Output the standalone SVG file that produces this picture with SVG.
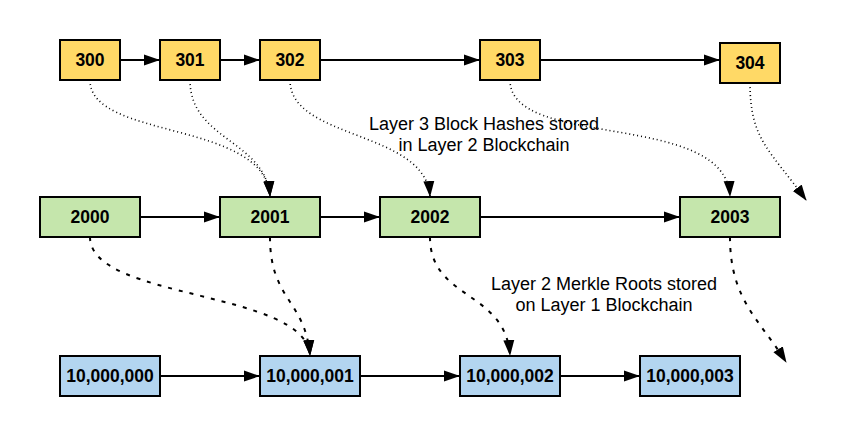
<svg xmlns="http://www.w3.org/2000/svg" width="846" height="447" viewBox="0 0 846 447">
<defs>
<marker id="ah" markerWidth="16" markerHeight="12" refX="15" refY="6" orient="auto" markerUnits="userSpaceOnUse">
<path d="M0,0.5 L16,6 L0,11.5 Z" fill="#000"/>
</marker>
<style>
.n rect{stroke:#000;stroke-width:2}
.y rect{fill:#FFD966}
.g rect{fill:#C5E6AC}
.b rect{fill:#B3D5F0}
.n text{font-family:"Liberation Sans",Arial,sans-serif;font-weight:bold;font-size:17.5px;text-anchor:middle;fill:#000}
.e path{fill:none;stroke:#000;stroke-width:2;marker-end:url(#ah)}
.e .dot{stroke-dasharray:1 3;stroke-width:1.6}
.e .dash{stroke-dasharray:4 7}
.lbl{font-family:"Liberation Sans",Arial,sans-serif;font-size:18px;text-anchor:middle;fill:#000}
</style>
</defs>
<rect width="846" height="447" fill="#fff"/>
<g id="connectors" class="e">
<path d="M120,60 H159"/>
<path d="M220,60 H259"/>
<path d="M320,60 H479"/>
<path d="M540,60 H719"/>
<path d="M140,217 H219"/>
<path d="M320,217 H379"/>
<path d="M480,217 H679"/>
<path d="M160,376 H259"/>
<path d="M360,376 H459"/>
<path d="M560,376 H639"/>
<path class="dot" d="M90,80 C90,140 265,120 270,196"/>
<path class="dot" d="M190,80 C190,140 265,140 270,196"/>
<path class="dot" d="M290,80 C290,140 425,130 430,196"/>
<path class="dot" d="M510,80 C510,150 725,110 730,196"/>
<path class="dot" d="M750,83 C750,140 770,150 806,200"/>
<path class="dash" d="M90,237 C90,300 305,290 310,355"/>
<path class="dash" d="M270,237 C270,300 305,300 310,355"/>
<path class="dash" d="M430,237 C430,300 505,290 510,355"/>
<path class="dash" d="M730,237 C730,300 760,320 786,362"/>
</g>
<g id="n300" class="n y"><rect x="60" y="40" width="60" height="40"/><text x="90" y="66">300</text></g>
<g id="n301" class="n y"><rect x="160" y="40" width="60" height="40"/><text x="190" y="66">301</text></g>
<g id="n302" class="n y"><rect x="260" y="40" width="60" height="40"/><text x="290" y="66">302</text></g>
<g id="n303" class="n y"><rect x="480" y="40" width="60" height="40"/><text x="510" y="66">303</text></g>
<g id="n304" class="n y"><rect x="720" y="43" width="60" height="40"/><text x="750" y="69">304</text></g>
<g id="n2000" class="n g"><rect x="40" y="197" width="100" height="40"/><text x="90" y="223">2000</text></g>
<g id="n2001" class="n g"><rect x="220" y="197" width="100" height="40"/><text x="270" y="223">2001</text></g>
<g id="n2002" class="n g"><rect x="380" y="197" width="100" height="40"/><text x="430" y="223">2002</text></g>
<g id="n2003" class="n g"><rect x="680" y="197" width="100" height="40"/><text x="730" y="223">2003</text></g>
<g id="n10000000" class="n b"><rect x="60" y="356" width="100" height="40"/><text x="110" y="382">10,000,000</text></g>
<g id="n10000001" class="n b"><rect x="260" y="356" width="100" height="40"/><text x="310" y="382">10,000,001</text></g>
<g id="n10000002" class="n b"><rect x="460" y="356" width="100" height="40"/><text x="510" y="382">10,000,002</text></g>
<g id="n10000003" class="n b"><rect x="640" y="356" width="100" height="40"/><text x="690" y="382">10,000,003</text></g>
<g id="label1"><text class="lbl" x="484" y="130">Layer 3 Block Hashes stored</text><text class="lbl" x="484" y="151">in Layer 2 Blockchain</text></g>
<g id="label2"><text class="lbl" x="604" y="290">Layer 2 Merkle Roots stored</text><text class="lbl" x="604" y="311">on Layer 1 Blockchain</text></g>
</svg>
